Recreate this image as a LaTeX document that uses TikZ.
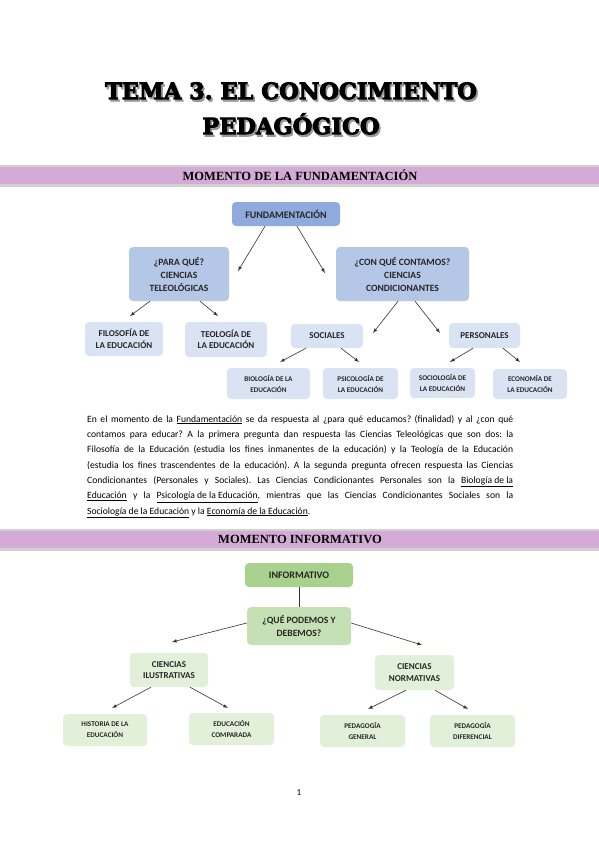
\documentclass[tikz,border=0pt]{standalone}
\usepackage{fontspec}
\setmainfont{Carlito}
\newfontfamily\headfont{Liberation Serif}
\newfontfamily\titlefont[FakeBold=4]{DejaVu Serif}
\usetikzlibrary{calc}
\definecolor{banda}{RGB}{212,170,214}
\definecolor{azuluno}{RGB}{143,170,220}
\definecolor{azuldos}{RGB}{180,199,231}
\definecolor{azultres}{RGB}{218,227,243}
\definecolor{verdeuno}{RGB}{169,209,142}
\definecolor{verdedos}{RGB}{197,224,180}
\definecolor{verdetres}{RGB}{226,240,217}
\newcommand{\sombra}[1]{\rlap{\hspace{1.6pt}\raisebox{-2.2pt}{\textcolor{black!40}{#1}}}#1}
\frenchspacing
\begin{document}
\begin{tikzpicture}[x=1pt,y=-1pt,
  caja/.style={rounded corners=4pt,align=center,inner sep=1pt,text=black!85},
  nivuno/.style={caja,font=\bfseries\fontsize{10}{12}\selectfont},
  nivdos/.style={caja,font=\bfseries\fontsize{9.6}{13}\selectfont},
  nivtres/.style={caja,font=\bfseries\fontsize{9}{11.5}\selectfont},
  nivcuatro/.style={caja,font=\bfseries\fontsize{7.2}{11}\selectfont},
  flecha/.style={-latex,black!80,line width=0.6pt},
  titulo/.style={font=\titlefont\bfseries\fontsize{22.5}{24}\selectfont},
  cabecera/.style={font=\headfont\bfseries\fontsize{12.5}{14}\selectfont}]
  \useasboundingbox[fill=white] (0,0) rectangle (599,848);
  % titulo con sombra
  \node [titulo] (tit1) at (291,92) {\sombra{TEMA 3. EL CONOCIMIENTO}};
  \node [titulo] (tit2) at (291,125) {\sombra{PEDAGÓGICO}};
  % bandas
  \fill [black!18] (0,165) rectangle (599,187);
  \fill [banda] (0,167) rectangle (599,183.5);
  \node [cabecera] (cab1) at (300,175.5) {MOMENTO DE LA FUNDAMENTACIÓN};
  \fill [black!18] (0,529) rectangle (599,551);
  \fill [banda] (0,531) rectangle (599,547.5);
  \node [cabecera] (cab2) at (300,539.5) {MOMENTO INFORMATIVO};
  % fundamentacion
  \node [nivuno,fill=azuluno,minimum width=108,minimum height=24] (fund) at (286,214) {FUNDAMENTACIÓN};
  \node [nivdos,fill=azuldos,minimum width=100,minimum height=54] (para) at (179,274) {¿PARA QUÉ?\\CIENCIAS\\TELEOLÓGICAS};
  \node [nivdos,fill=azuldos,minimum width=133,minimum height=54] (con) at (402.5,274) {¿CON QUÉ CONTAMOS?\\CIENCIAS\\CONDICIONANTES};
  \node [nivtres,fill=azultres,minimum width=78,minimum height=34] (filo) at (124,339) {FILOSOFÍA DE\\LA EDUCACIÓN};
  \node [nivtres,fill=azultres,minimum width=82,minimum height=35] (teo) at (226,339.5) {TEOLOGÍA DE\\LA EDUCACIÓN};
  \node [nivtres,fill=azultres,minimum width=72,minimum height=24] (soc) at (327,336) {SOCIALES};
  \node [nivtres,fill=azultres,minimum width=71,minimum height=25] (pers) at (484.5,335.5) {PERSONALES};
  \node [nivcuatro,fill=azultres,minimum width=83,minimum height=31] (bio) at (268.5,383.5) {BIOLOGÍA DE LA\\EDUCACIÓN};
  \node [nivcuatro,fill=azultres,minimum width=75,minimum height=31] (psi) at (360.5,383.5) {PSICOLOGÍA DE\\LA EDUCACIÓN};
  \node [nivcuatro,fill=azultres,minimum width=65,minimum height=30] (socio) at (442.5,383) {SOCIOLOGÍA DE\\LA EDUCACIÓN};
  \node [nivcuatro,fill=azultres,minimum width=74,minimum height=30] (eco) at (530,384) {ECONOMÍA DE\\LA EDUCACIÓN};
  \coordinate (fpara) at (238,271);
  \coordinate (fcon) at (325,273);
  \coordinate (ffilo) at (130,316);
  \coordinate (fteo) at (218,316);
  \coordinate (fsoc) at (373,333);
  \coordinate (fpers) at (440,333);
  \coordinate (fbio) at (280,362);
  \coordinate (fpsi) at (359,362);
  \coordinate (fsocio) at (450,362);
  \coordinate (feco) at (520,362);
  \draw [flecha] ([xshift=-21]fund.south) -- (fpara);
  \draw [flecha] ([xshift=11]fund.south) -- (fcon);
  \draw [flecha] ([xshift=-29]para.south) -- (ffilo);
  \draw [flecha] ([xshift=21]para.south) -- (fteo);
  \draw [flecha] ([xshift=-4.5]con.south) -- (fsoc);
  \draw [flecha] ([xshift=12.5]con.south) -- (fpers);
  \draw [flecha] ([xshift=-21]soc.south) -- (fbio);
  \draw [flecha] ([xshift=14]soc.south) -- (fpsi);
  \draw [flecha] ([xshift=-11.5]pers.south) -- (fsocio);
  \draw [flecha] ([xshift=18.5]pers.south) -- (feco);
  % texto
  \node [anchor=north west,inner sep=0pt,text width=426pt,align=justify,
    font=\fontsize{9.6}{15.3}\selectfont] (texto) at (87,415) {%
    En el momento de la \underline{Fundamentación} se da respuesta al ¿para qué educamos? (finalidad) y al ¿con qué\linebreak
    contamos para educar? A la primera pregunta dan respuesta las Ciencias Teleológicas que son dos: la\linebreak
    Filosofía de la Educación (estudia los fines inmanentes de la educación) y la Teología de la Educación\linebreak
    (estudia los fines trascendentes de la educación). A la segunda pregunta ofrecen respuesta las Ciencias\linebreak
    Condicionantes (Personales y Sociales). Las Ciencias Condicionantes Personales son la \underline{Biología de la}\linebreak
    \underline{Educación} y la \underline{Psicología de la Educación}, mientras que las Ciencias Condicionantes Sociales son la\linebreak
    \underline{Sociología de la Educación} y la \underline{Economía de la Educación}.};
  % informativo
  \node [nivuno,fill=verdeuno,minimum width=108,minimum height=24] (info) at (299,575) {INFORMATIVO};
  \node [nivdos,fill=verdedos,minimum width=104,minimum height=38] (que) at (299,626) {¿QUÉ PODEMOS Y\\DEBEMOS?};
  \node [nivtres,fill=verdetres,minimum width=78,minimum height=34] (ilus) at (169,670) {CIENCIAS\\ILUSTRATIVAS};
  \node [nivtres,fill=verdetres,minimum width=79,minimum height=35] (norm) at (414.5,672.5) {CIENCIAS\\NORMATIVAS};
  \node [nivcuatro,fill=verdetres,minimum width=84,minimum height=32] (hist) at (105,730) {HISTORIA DE LA\\EDUCACIÓN};
  \node [nivcuatro,fill=verdetres,minimum width=85,minimum height=32] (comp) at (231.5,729) {EDUCACIÓN\\COMPARADA};
  \node [nivcuatro,fill=verdetres,minimum width=85,minimum height=32] (gen) at (362.5,731) {PEDAGOGÍA\\GENERAL};
  \node [nivcuatro,fill=verdetres,minimum width=85,minimum height=32] (dif) at (472.5,731) {PEDAGOGÍA\\DIFERENCIAL};
  \coordinate (filus) at (172,642);
  \coordinate (fnorm) at (422,645);
  \coordinate (fhist) at (112,708);
  \coordinate (fcomp) at (228,708);
  \coordinate (fgen) at (368,709);
  \coordinate (fdif) at (468,709);
  \draw [black!80,line width=0.6pt] (info) -- (que);
  \draw [flecha] ([yshift=3]que.west) -- (filus);
  \draw [flecha] ([yshift=3]que.east) -- (fnorm);
  \draw [flecha] ([xshift=-18]ilus.south) -- (fhist);
  \draw [flecha] ([xshift=21]ilus.south) -- (fcomp);
  \draw [flecha] ([xshift=-8.5]norm.south) -- (fgen);
  \draw [flecha] ([xshift=20.5]norm.south) -- (fdif);
  % numero de pagina
  \node [font=\fontsize{9}{10}\selectfont] (pag) at (299,793) {1};
\end{tikzpicture}
\end{document}
